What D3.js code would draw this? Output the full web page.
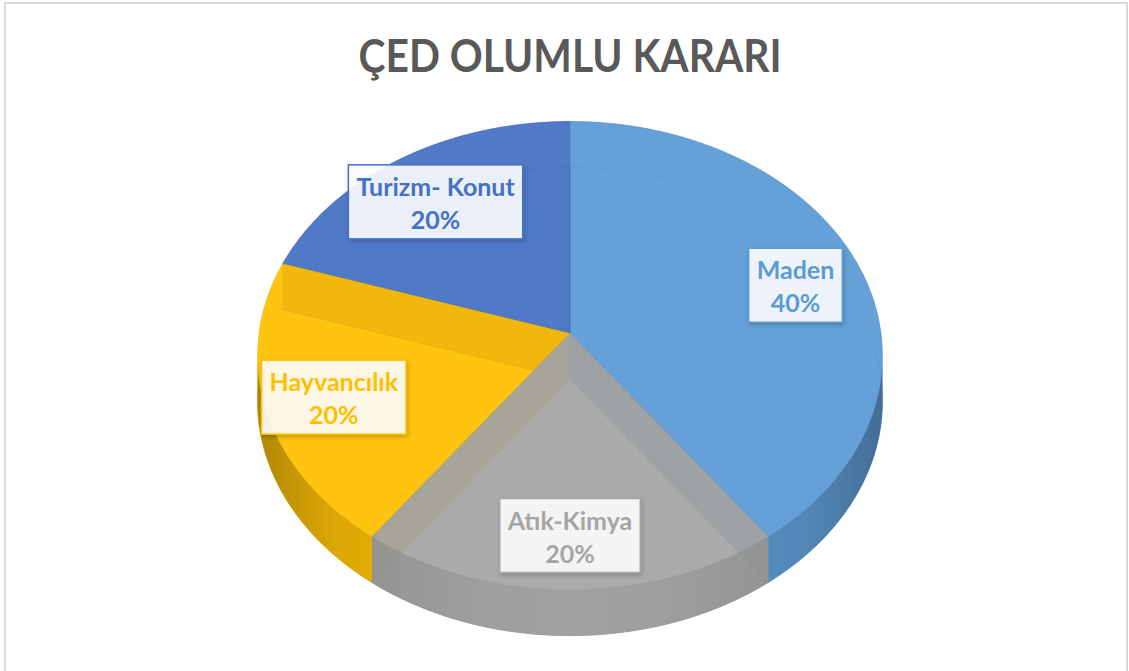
<!DOCTYPE html>
<html lang="tr">
<head>
<meta charset="UTF-8">
<title>ÇED OLUMLU KARARI</title>
<script src="https://cdn.jsdelivr.net/npm/d3@7"></script>
<style>
  body { margin: 0; background: #fff; }
  svg { display: block; }
  .title { font-family: Lato, "Open Sans", sans-serif; font-weight: 700; }
  .lbl text { font-family: Lato, "Open Sans", sans-serif; font-weight: 700; }
</style>
</head>
<body>
<div id="wrap"></div>
<script>
// data
var categories = ['Maden', 'Atık-Kimya', 'Hayvancılık', 'Turizm- Konut'];
var values = [40, 20, 20, 20];
var colors = ['#5B9BD5', '#A5A5A5', '#FFC000', '#4472C4'];
var chartTitle = 'ÇED OLUMLU KARARI';

// layout
var WIDTH = 1129, HEIGHT = 671;
var CX = 570, CY = 333, RX = 311, RY = 232, PERSP = 0.096, DEPTH = 46;
var LABEL_R = 0.78, LABEL_H = 0.15, FONT = 25, PAD = 8;
var TOP_OP = 0.75, WALL_OP = 0.75;

var svg = d3.select('#wrap').append('svg').attr('width', WIDTH).attr('height', HEIGHT);
var defs = svg.append('defs');

// chart frame
svg.append('rect')
    .attr('x', 5).attr('y', 3).attr('width', 1122).attr('height', 700)
    .attr('fill', 'none').attr('stroke', '#d9d9d9').attr('stroke-width', 2);

svg.append('text').attr('class', 'title')
    .attr('x', CX).attr('y', 72)
    .attr('text-anchor', 'middle')
    .attr('font-size', 45)
    .attr('textLength', 423).attr('lengthAdjust', 'spacingAndGlyphs')
    .attr('fill', '#595959')
    .text(chartTitle);

// project a point of the tilted disk: a = angle clockwise from 12 o'clock, r = 0..1, h = 0 top / 1 bottom
function proj(a, r, h) {
    var u = r * Math.sin(a), v = r * Math.cos(a), w = 1 + PERSP * v;
    return [CX + RX * u / w, CY - RY * v / w + h * DEPTH];
}
function arcPts(a0, a1, r, h) {
    var n = Math.max(2, Math.ceil(Math.abs(a1 - a0) / 0.01));
    return d3.range(n + 1).map(function(i) { return proj(a0 + (a1 - a0) * i / n, r, h); });
}
var line = d3.line();
function poly(pts) { return line(pts) + 'Z'; }

var pie = d3.pie().sort(null).value(function(d) { return d; });
var arcs = pie(values);
var total = d3.sum(values);
var pct = d3.format('.0%');

// silhouette angles: front wall visible between F0 and F1
var F0 = Math.acos(-PERSP), F1 = 2 * Math.PI - F0;

// gradients for the outer walls
arcs.forEach(function(d, i) {
    var c = d3.color(colors[i]);
    var g = defs.append('linearGradient').attr('id', 'wall' + i)
        .attr('gradientUnits', 'userSpaceOnUse')
        .attr('x1', CX - RX).attr('x2', CX + RX).attr('y1', 0).attr('y2', 0);
    [[0, 1.1], [0.12, 0.45], [0.35, 0.15], [0.5, 0.1], [0.65, 0.15], [0.88, 0.45], [1, 1.1]].forEach(function(s) {
        g.append('stop').attr('offset', s[0]).attr('stop-color', c.darker(s[1]).formatHex());
    });
});

var gBottom = svg.append('g'),
    gBack = svg.append('g'),
    gRadial = svg.append('g'),
    gFront = svg.append('g'),
    gTop = svg.append('g'),
    gLabel = svg.append('g');

arcs.forEach(function(d, i) {
    var a0 = d.startAngle, a1 = d.endAngle, c = colors[i];
    // bottom face
    gBottom.append('path')
        .attr('d', poly([proj(0, 0, 1)].concat(arcPts(a0, a1, 1, 1))))
        .attr('fill', c).attr('fill-opacity', TOP_OP)
        .attr('stroke', d3.color(c).darker(0.8)).attr('stroke-opacity', 0.6).attr('stroke-width', 1);
    // outer walls split into back / front pieces
    var pieces = [];
    var s = Math.max(a0, F0), e = Math.min(a1, F1);
    if (e > s) pieces.push({ s: s, e: e, front: true });
    if (a0 < F0) pieces.push({ s: a0, e: Math.min(a1, F0), front: false });
    if (a1 > F1) pieces.push({ s: Math.max(a0, F1), e: a1, front: false });
    pieces.forEach(function(p) {
        if (p.e <= p.s) return;
        var pts = arcPts(p.s, p.e, 1, 0).concat(arcPts(p.e, p.s, 1, 1));
        if (p.front) {
            gFront.append('path').attr('d', poly(pts))
                .attr('fill', 'url(#wall' + i + ')').attr('fill-opacity', 0.93);
        } else {
            gBack.append('path').attr('d', poly(pts))
                .attr('fill', c).attr('fill-opacity', WALL_OP);
        }
    });
    // top face
    gTop.append('path')
        .attr('d', poly([proj(0, 0, 0)].concat(arcPts(a0, a1, 1, 0))))
        .attr('fill', c).attr('fill-opacity', TOP_OP)
        .attr('stroke', d3.color(c).darker(0.3)).attr('stroke-opacity', 0.4).attr('stroke-width', 0.8);
});

// radial walls, far slices first
var radial = [];
arcs.forEach(function(d, i) {
    var mid = (d.startAngle + d.endAngle) / 2;
    [d.startAngle, d.endAngle].forEach(function(a) {
        radial.push({ a: a, i: i, depth: Math.cos(mid) });
    });
});
radial.sort(function(p, q) { return q.depth - p.depth; });
radial.forEach(function(r) {
    gRadial.append('path')
        .attr('d', poly([proj(r.a, 0, 0), proj(r.a, 1, 0), proj(r.a, 1, 1), proj(r.a, 0, 1)]))
        .attr('fill', d3.color(colors[r.i]).darker(0.25))
        .attr('fill-opacity', WALL_OP);
});

// data labels
var shadow = defs.append('filter').attr('id', 'shadow')
    .attr('x', '-20%').attr('y', '-20%').attr('width', '140%').attr('height', '150%');
shadow.append('feDropShadow').attr('dx', 1).attr('dy', 2).attr('stdDeviation', 2)
    .attr('flood-color', '#000').attr('flood-opacity', 0.25);

arcs.forEach(function(d, i) {
    var mid = (d.startAngle + d.endAngle) / 2;
    var p = proj(mid, LABEL_R, LABEL_H);
    var g = gLabel.append('g').attr('class', 'lbl')
        .attr('transform', 'translate(' + p[0] + ',' + p[1] + ')');
    var box = g.append('rect');
    var t1 = g.append('text').attr('text-anchor', 'middle').attr('y', -6)
        .attr('font-size', FONT).attr('fill', colors[i]).text(categories[i]);
    var t2 = g.append('text').attr('text-anchor', 'middle').attr('y', 27)
        .attr('font-size', FONT).attr('fill', colors[i]).text(pct(d.value / total));
    var w = Math.max(t1.node().getComputedTextLength(), t2.node().getComputedTextLength()) + 2 * PAD;
    box.attr('x', -w / 2).attr('y', -37).attr('width', w).attr('height', 74)
        .attr('fill', '#fff').attr('fill-opacity', 0.88)
        .attr('stroke', colors[i]).attr('stroke-width', 1.5)
        .attr('filter', 'url(#shadow)');
});
</script>
</body>
</html>
